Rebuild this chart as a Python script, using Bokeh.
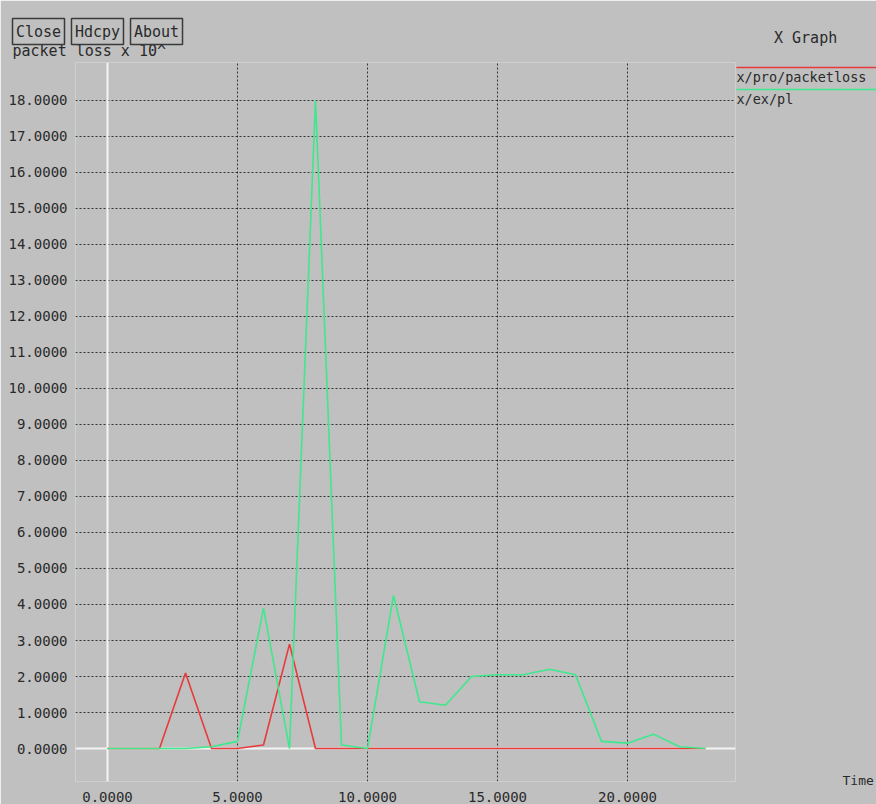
from bokeh.plotting import figure
from bokeh.models import FixedTicker, Span, NumeralTickFormatter, Range1d
from bokeh.core.properties import value
from bokeh.embed import file_html
from bokeh.resources import INLINE

# ---- data ----
time = list(range(24))
pro_packetloss = [0, 0, 0, 2.1, 0, 0, 0.1, 2.9, 0, 0, 0, 0,
                  0, 0, 0, 0, 0, 0, 0, 0, 0, 0, 0, 0]
ex_pl = [0, 0, 0, 0, 0.05, 0.2, 3.9, 0, 18.0, 0.1, 0, 4.25,
         1.3, 1.2, 2.0, 2.05, 2.05, 2.2, 2.05, 0.2, 0.15, 0.4, 0.05, 0]
x_ticks = [0, 5, 10, 15, 20]
y_ticks = list(range(19))
series_names = ["x/pro/packetloss", "x/ex/pl"]
buttons = ["Close", "Hdcpy", "About"]

BG = "#c0c0c0"
RED = "#e83a3a"
GREEN = "#3ee88c"
TXT = "#2a2a2a"
MONO = "DejaVu Sans Mono"

p = figure(width=876, height=804, output_backend="svg", toolbar_location=None,
           x_range=Range1d(-1.2308, 24.154), y_range=Range1d(-0.915, 19.05),
           min_border_left=75, min_border_right=141, min_border_top=62,
           min_border_bottom=22)
p.title.visible = False
p.background_fill_color = BG
p.border_fill_color = BG
p.outline_line_color = None

for ax in (p.xaxis[0], p.yaxis[0]):
    ax.axis_line_color = None
    ax.major_tick_line_color = None
    ax.minor_tick_line_color = None
    ax.major_label_text_font = MONO
    ax.major_label_text_font_size = "14px"
    ax.major_label_text_color = TXT
    ax.major_label_standoff = 2
    ax.formatter = NumeralTickFormatter(format="0.0000")
p.xaxis[0].major_label_standoff = 4
p.xaxis[0].ticker = FixedTicker(ticks=x_ticks)
p.yaxis[0].ticker = FixedTicker(ticks=y_ticks)

p.xgrid[0].ticker = FixedTicker(ticks=x_ticks[1:])
p.ygrid[0].ticker = FixedTicker(ticks=y_ticks[1:])
for g in (p.xgrid[0], p.ygrid[0]):
    g.grid_line_color = "#1a1a1a"
    g.grid_line_dash = "2 2"
    g.grid_line_width = 1
    g.grid_line_alpha = 0.85

p.add_layout(Span(location=0, dimension="width", line_color="#f4f4f4",
                  line_width=2, level="underlay"))
p.add_layout(Span(location=0, dimension="height", line_color="#f4f4f4",
                  line_width=2, level="underlay"))

p.line(time, pro_packetloss, line_color=RED, line_width=1.6)
p.line(time, ex_pl, line_color=GREEN, line_width=1.6)


def label(xs, ys, texts, align="left", size="15px"):
    p.text(x=xs, y=ys, text=texts, text_font=value(MONO),
           text_font_size=value(size), text_color=TXT,
           text_baseline="middle", text_align=align, level="overlay")


# legend (xgraph style: coloured line above the name)
p.line([24.19, 30.0], [18.91, 18.91], line_color=RED, line_width=1.6, level="overlay")
p.line([24.19, 30.0], [18.30, 18.30], line_color=GREEN, line_width=1.6, level="overlay")
label([24.19, 24.19], [18.64, 18.03], series_names, size="13.5px")

label([26.85], [19.74], ["X Graph"], "center")
label([28.27], [-0.887], ["Time"], size="13px")
label([-3.654], [19.38], ["packet loss x 10^"])

btn_x = [-2.654, -0.385, 1.885]
p.rect(x=btn_x, y=[19.91] * 3, width=52, height=26, width_units="screen",
       height_units="screen", fill_color=BG, line_color="#3a3a3a",
       line_width=1.5, level="overlay")
label(btn_x, [19.91] * 3, buttons, "center")

open("out.html", "w").write(file_html(p, INLINE))
